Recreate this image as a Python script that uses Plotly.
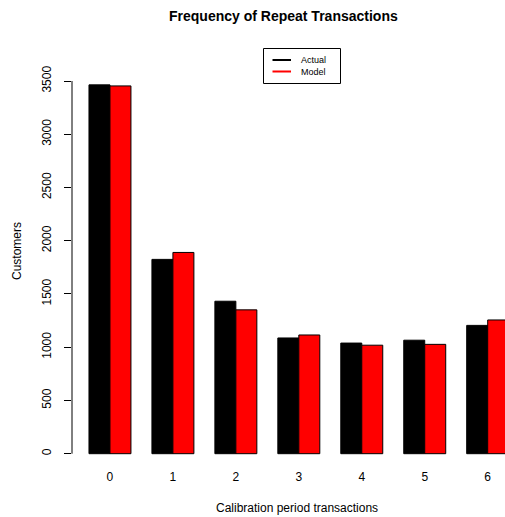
import plotly.graph_objects as go

categories = ["0", "1", "2", "3", "4", "5", "6"]
actual = [3464, 1825, 1432, 1087, 1039, 1066, 1205]
model = [3454, 1890, 1351, 1115, 1019, 1027, 1256]
y_ticks = [0, 500, 1000, 1500, 2000, 2500, 3000, 3500]

W, H = 505, 517
L, R, T, B = 72, 0, 67, 49
PW, PH = W - L - R, H - T - B


def px(x):
    return (x - L) / PW


def py(y):
    return (H - B - y) / PH


FONT = "Liberation Sans, Arial, Helvetica, sans-serif"
xpos = list(range(len(categories)))

fig = go.Figure()
fig.add_trace(go.Bar(x=xpos, y=actual, name="Actual", marker=dict(color="black", line=dict(color="black", width=1)), showlegend=False))
fig.add_trace(go.Bar(x=xpos, y=model, name="Model", marker=dict(color="#ff0000", line=dict(color="black", width=1)), showlegend=False))

fig.update_layout(
    width=W, height=H,
    margin=dict(l=L, r=R, t=T, b=B),
    paper_bgcolor="white", plot_bgcolor="white",
    barmode="group", bargap=1/3, bargroupgap=0,
    font=dict(family=FONT, size=12, color="black"),
    xaxis=dict(range=[-0.603, 6.275], tickmode="array", tickvals=xpos, ticktext=categories,
               showgrid=False, zeroline=False, showline=False, ticks="", tickfont=dict(size=12)),
    yaxis=dict(range=[-134.3, 3631.7], tickmode="array", tickvals=y_ticks, ticktext=[str(v) for v in y_ticks],
               showgrid=False, zeroline=False, showline=False, ticks="outside", ticklen=7,
               tickcolor="black", tickwidth=1, tickangle=-90, tickfont=dict(size=12),
               ticklabelstandoff=8),
)

# y axis line spanning tick range only (R style)
fig.add_shape(type="line", xref="paper", yref="y", x0=0, x1=0, y0=y_ticks[0], y1=y_ticks[-1],
              line=dict(color="black", width=1))

# titles
fig.add_annotation(text="<b>Frequency of Repeat Transactions</b>", xref="paper", yref="paper",
                   x=px(283.5), y=py(16), showarrow=False, xanchor="center", yanchor="middle",
                   font=dict(size=14, family=FONT))
fig.add_annotation(text="Calibration period transactions", xref="paper", yref="paper",
                   x=px(297), y=py(508), showarrow=False, xanchor="center", yanchor="middle",
                   font=dict(size=12, family=FONT))
fig.add_annotation(text="Customers", xref="paper", yref="paper", textangle=-90,
                   x=px(17), y=py(251), showarrow=False, xanchor="center", yanchor="middle",
                   font=dict(size=12, family=FONT))

# legend box
fig.add_shape(type="rect", xref="paper", yref="paper", x0=px(263.5), x1=px(340.5), y0=py(83.5), y1=py(48.5),
              line=dict(color="black", width=1), fillcolor="white")
for label, color, yy in [("Actual", "black", 60), ("Model", "#ff0000", 71.5)]:
    fig.add_shape(type="line", xref="paper", yref="paper", x0=px(272.5), x1=px(291), y0=py(yy), y1=py(yy),
                  line=dict(color=color, width=2))
    fig.add_annotation(text=label, xref="paper", yref="paper", x=px(299), y=py(yy), showarrow=False,
                       xanchor="left", yanchor="middle", font=dict(size=9, family=FONT))

fig.write_html("out.html", config={"displayModeBar": False},
               post_script="document.body.style.margin='0';document.body.style.overflow='hidden';")
